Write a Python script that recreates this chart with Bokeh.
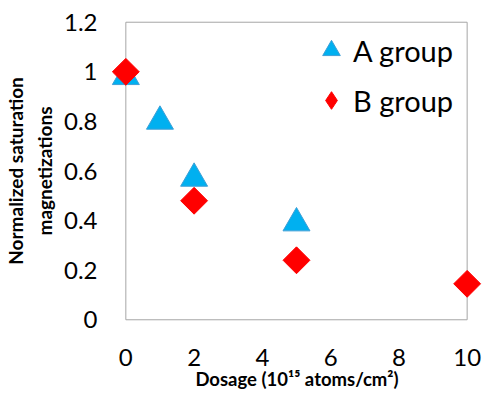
import math
from bokeh.plotting import figure
from bokeh.models import ColumnDataSource, FixedTicker, Legend, LegendItem, LinearAxis
from bokeh.embed import file_html
from bokeh.resources import INLINE

# ---- data ----
a_dose = [0, 1, 2, 5]
a_val = [0.98, 0.80, 0.57, 0.39]
b_dose = [0, 2, 5, 10]
b_val = [1.00, 0.48, 0.24, 0.145]

x_ticks = [0, 2, 4, 6, 8, 10]
y_ticks = [0, 0.2, 0.4, 0.6, 0.8, 1.0, 1.2]
y_tick_labels = ["0", "0.2", "0.4", "0.6", "0.8", "1", "1.2"]
series_names = ["A group", "B group"]
x_title = "Dosage (10\u00b9\u2075 atoms/cm\u00b2)"
y_title_1 = "Normalized saturation"
y_title_2 = "magnetizations"

FONT = "Lato"

p = figure(width=487, height=394, output_backend="svg", toolbar_location=None,
           x_range=(-0.42, 10.45), y_range=(-0.015, 1.215),
           min_border_left=111, min_border_right=5, min_border_top=18, min_border_bottom=71)
p.outline_line_color = None
p.xgrid.visible = False
p.ygrid.visible = False
p.background_fill_color = "white"
p.border_fill_color = "white"

# plot-area border
p.quad(left=[x_ticks[0]], right=[x_ticks[-1]], bottom=[y_ticks[0]], top=[y_ticks[-1]],
       fill_color=None, line_color="#A6A6A6", line_width=1)

sa = ColumnDataSource(dict(x=a_dose, y=a_val))
sb = ColumnDataSource(dict(x=b_dose, y=b_val))
ra = p.scatter("x", "y", source=sa, marker="triangle", size=27,
               fill_color="#00B0F0", line_color="#3F9FD6", line_width=1)
# diamond glyph (drawn underneath, fully covered) used for the legend swatch
rb_leg = p.scatter("x", "y", source=sb, marker="diamond", size=25,
                   fill_color="#FF0000", line_color="#FF0000", line_width=1)
rb = p.scatter("x", "y", source=sb, marker="square", size=19, angle=math.pi / 4,
               fill_color="#FF0000", line_color="#FF0000", line_width=1)


def style_axis(ax):
    ax.axis_line_color = None
    ax.major_tick_line_color = None
    ax.minor_tick_line_color = None
    ax.major_tick_out = 0
    ax.major_tick_in = 0
    ax.minor_tick_out = 0
    ax.minor_tick_in = 0
    ax.major_label_text_font = FONT
    ax.major_label_text_font_size = "24px"
    ax.major_label_text_color = "black"
    ax.axis_label_text_font = FONT
    ax.axis_label_text_font_style = "bold"
    ax.axis_label_text_color = "black"


style_axis(p.xaxis[0])
style_axis(p.yaxis[0])

p.xaxis.ticker = FixedTicker(ticks=x_ticks)
p.yaxis.ticker = FixedTicker(ticks=y_ticks)
p.yaxis.major_label_overrides = {t: l for t, l in zip(y_ticks, y_tick_labels)}
p.xaxis.major_label_standoff = 25
p.yaxis.major_label_standoff = 14
p.xaxis.axis_label = x_title
p.xaxis.axis_label_text_font_size = "18.5px"
p.xaxis.axis_label_standoff = -1
p.yaxis.axis_label = y_title_2
p.yaxis.axis_label_text_font_size = "19px"
p.yaxis.axis_label_standoff = 5

# outer left axis carrying only the first line of the y title
ax2 = LinearAxis(ticker=FixedTicker(ticks=[]), axis_label=y_title_1)
style_axis(ax2)
ax2.major_label_standoff = 0
ax2.axis_label_standoff = 3
ax2.axis_label_text_font_size = "19px"
p.add_layout(ax2, "left")

legend = Legend(items=[LegendItem(label=series_names[0], renderers=[ra]),
                       LegendItem(label=series_names[1], renderers=[rb_leg])],
                location=(198, 201))
legend.border_line_color = None
legend.background_fill_alpha = 0
legend.label_text_font = FONT
legend.label_text_font_size = "29px"
legend.label_text_color = "black"
legend.glyph_width = 44
legend.glyph_height = 44
legend.label_standoff = 0
legend.spacing = 6
legend.margin = 0
legend.padding = 0
p.add_layout(legend)

open("out.html", "w").write(file_html(p, INLINE))
